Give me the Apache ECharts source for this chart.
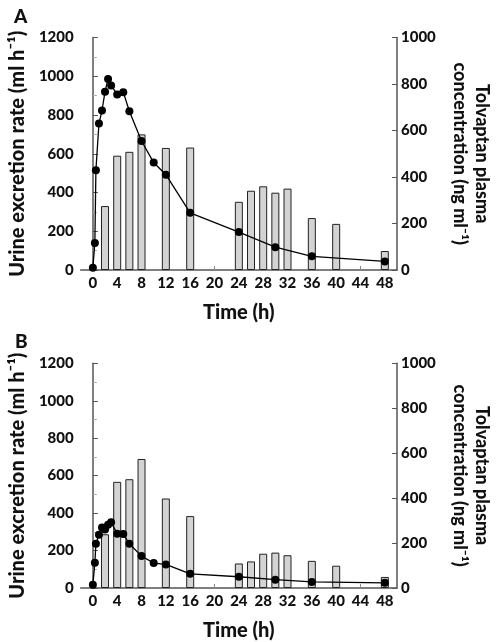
<!DOCTYPE html>
<html>
<head>
<meta charset="utf-8">
<script src="https://cdn.jsdelivr.net/npm/echarts@6/dist/echarts.min.js"></script>
<style>
html,body{margin:0;padding:0;background:#fff;}
#c{width:501px;height:642px;}
</style>
</head>
<body>
<div id="c"></div>
<script>
// ---- Data ----
var barTimes = [2, 4, 6, 8, 12, 16, 24, 26, 28, 30, 32, 36, 40, 48];
var urineA = [330, 590, 610, 700, 630, 632, 352, 409, 432, 399, 420, 268, 238, 98];
var urineB = [287, 567, 581, 689, 478, 384, 131, 142, 183, 189, 175, 145, 119, 59];

var concTimes = [0, 0.33, 0.5, 1, 1.5, 2, 2.5, 3, 4, 5, 6, 8, 10, 12, 16, 24, 30, 36, 48];
var concA = [10, 116, 429, 630, 686, 767, 822, 794, 755, 765, 683, 555, 462, 410, 246, 163, 98, 59, 37];
var concB = [15, 112, 197, 237, 269, 260, 282, 293, 241, 240, 197, 142, 111, 105, 63, 50, 37, 27, 23];

var xTicks = [0, 4, 8, 12, 16, 20, 24, 28, 32, 36, 40, 44, 48];
var leftTitle = 'Urine excretion rate (ml h\u207B\u00B9)';
var rightTitle = 'Tolvaptan plasma\nconcentration (ng ml\u207B\u00B9)';
var xTitle = 'Time (h)';
var panelLabels = ['A', 'B'];

// ---- Build ----
var FONT = 'Lato';
var W = 900;
var axisCol = '#555';
function pair(xs, ys) { return xs.map(function (x, i) { return [x, ys[i]]; }); }
function plain(v) { return String(v); }

var grids = [
  { left: 77, right: 94, top: 37.5, height: 232.5 },
  { left: 77, right: 94, top: 363.3, height: 231.7 }
];
var xAxes = [], yAxes = [], series = [];
[0, 1].forEach(function (g) {
  xAxes.push({
    type: 'value', gridIndex: g, min: -2, max: 50,
    name: xTitle, nameLocation: 'middle', nameGap: 33,
    nameTextStyle: { fontFamily: FONT, fontWeight: W, fontSize: 20, color: '#111' },
    axisLine: { show: true, lineStyle: { color: axisCol, width: 1.5 } },
    axisTick: { show: true, inside: true, length: 4, customValues: xTicks, lineStyle: { color: '#888' } },
    axisLabel: { customValues: xTicks, formatter: plain, fontFamily: FONT, fontWeight: W, fontSize: 15, color: '#111', margin: 6 },
    splitLine: { show: false }
  });
  yAxes.push({
    type: 'value', gridIndex: g, position: 'left', min: 0, max: 1200, interval: 200,
    name: leftTitle, nameLocation: 'middle', nameGap: 48, nameRotate: 90,
    nameTextStyle: { fontFamily: FONT, fontWeight: W, fontSize: 20, color: '#111' },
    axisLine: { show: true, lineStyle: { color: axisCol, width: 1.5 } },
    axisTick: { show: true, inside: true, length: 5, lineStyle: { color: axisCol } },
    minorTick: { show: true, splitNumber: 2, length: 4, lineStyle: { color: '#aaa' } },
    axisLabel: { formatter: plain, fontFamily: FONT, fontWeight: W, fontSize: 15, color: '#111', margin: 7 },
    splitLine: { show: false }
  });
  yAxes.push({
    type: 'value', gridIndex: g, position: 'right', min: 0, max: 1000, interval: 200,
    name: rightTitle, nameLocation: 'middle', nameGap: 52, nameRotate: -90,
    nameTextStyle: { fontFamily: FONT, fontWeight: W, fontSize: 18, color: '#111', lineHeight: 22 },
    axisLine: { show: true, lineStyle: { color: axisCol, width: 1.5 } },
    axisTick: { show: true, inside: true, length: 5, lineStyle: { color: axisCol } },
    axisLabel: { formatter: plain, fontFamily: FONT, fontWeight: W, fontSize: 15, color: '#111', margin: 4 },
    splitLine: { show: false }
  });
});

series.push({
  type: 'bar', xAxisIndex: 0, yAxisIndex: 0, data: pair(barTimes, urineA), barWidth: 8,
  itemStyle: { color: '#d3d3d3', borderColor: '#222', borderWidth: 1 }, silent: true
});
series.push({
  type: 'line', xAxisIndex: 0, yAxisIndex: 1, data: pair(concTimes, concA),
  symbol: 'circle', symbolSize: 8, itemStyle: { color: '#000' },
  lineStyle: { color: '#000', width: 1.3 }, z: 5
});
series.push({
  type: 'bar', xAxisIndex: 1, yAxisIndex: 2, data: pair(barTimes, urineB), barWidth: 8,
  itemStyle: { color: '#d3d3d3', borderColor: '#222', borderWidth: 1 }, silent: true
});
series.push({
  type: 'line', xAxisIndex: 1, yAxisIndex: 3, data: pair(concTimes, concB),
  symbol: 'circle', symbolSize: 8, itemStyle: { color: '#000' },
  lineStyle: { color: '#000', width: 1.3 }, z: 5
});

var chart = echarts.init(document.getElementById('c'), null, { renderer: 'canvas' });
chart.setOption({
  animation: false,
  backgroundColor: '#fff',
  title: [
    { text: panelLabels[0], left: 9, top: 2, textStyle: { fontFamily: FONT, fontWeight: W, fontSize: 19, color: '#111' } },
    { text: panelLabels[1], left: 10, top: 327, textStyle: { fontFamily: FONT, fontWeight: W, fontSize: 19, color: '#111' } }
  ],
  grid: grids,
  xAxis: xAxes,
  yAxis: yAxes,
  series: series
});
</script>
</body>
</html>
